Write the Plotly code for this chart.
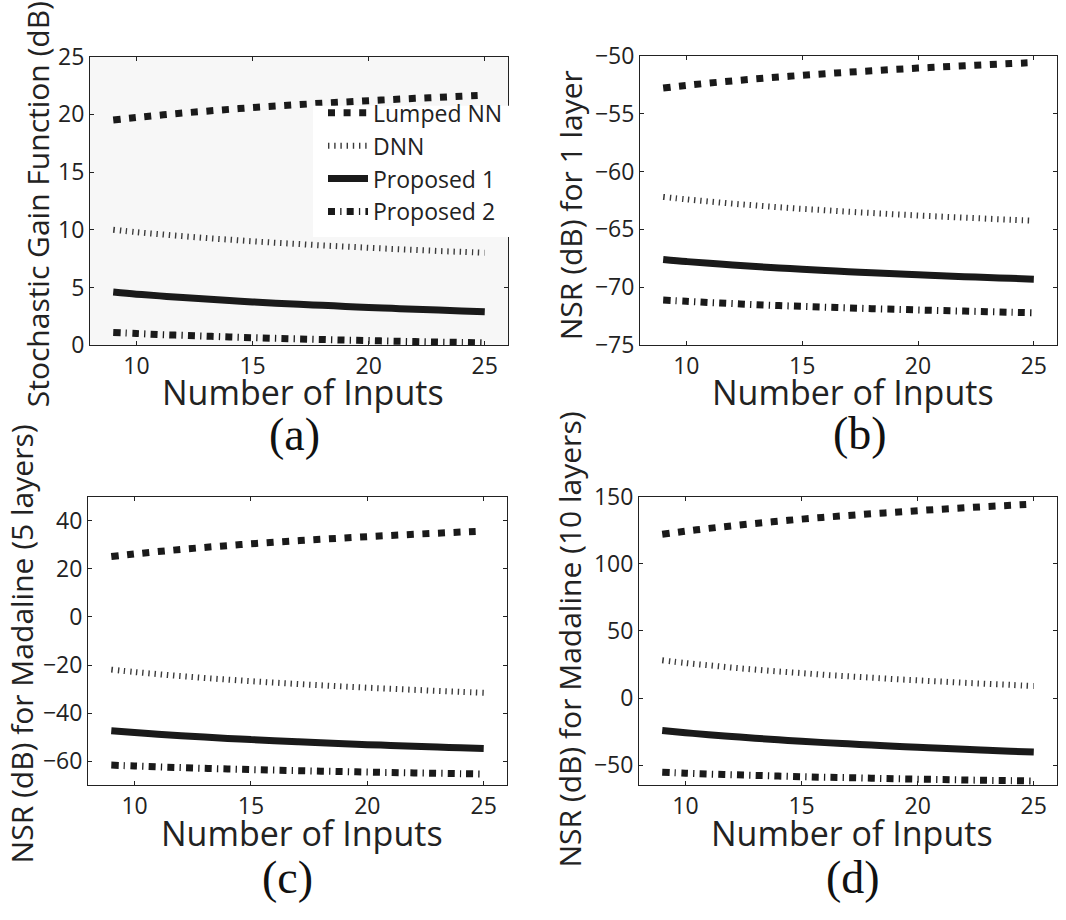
import plotly.graph_objects as go

W, H = 1066, 920

# ---------------- data ----------------
inputs = [9, 10, 11, 12, 13, 14, 15, 16, 17, 18, 19, 20, 21, 22, 23, 24, 25]
series_names = ["Lumped NN", "DNN", "Proposed 1", "Proposed 2"]

# (a) Stochastic gain function (dB)
a_lumped = [19.50, 19.72, 19.92, 20.11, 20.27, 20.43, 20.58, 20.71, 20.84, 20.96, 21.07, 21.18, 21.28, 21.38, 21.47, 21.56, 21.65]
a_dnn = [10.00, 9.79, 9.61, 9.44, 9.28, 9.14, 9.00, 8.87, 8.76, 8.64, 8.54, 8.44, 8.34, 8.25, 8.16, 8.08, 8.00]
a_prop1 = [4.60, 4.42, 4.27, 4.12, 3.99, 3.87, 3.75, 3.64, 3.54, 3.45, 3.36, 3.27, 3.19, 3.11, 3.04, 2.97, 2.90]
a_prop2 = [1.10, 1.01, 0.92, 0.85, 0.78, 0.71, 0.65, 0.59, 0.54, 0.49, 0.44, 0.40, 0.35, 0.31, 0.27, 0.24, 0.20]

# (b) NSR (dB) for 1 layer
b_lumped = [-52.80, -52.57, -52.37, -52.18, -52.01, -51.85, -51.70, -51.56, -51.43, -51.31, -51.19, -51.08, -50.98, -50.88, -50.78, -50.69, -50.60]
b_dnn = [-62.20, -62.41, -62.60, -62.78, -62.94, -63.09, -63.23, -63.35, -63.48, -63.59, -63.70, -63.80, -63.90, -63.99, -64.08, -64.17, -64.25]
b_prop1 = [-67.60, -67.78, -67.93, -68.08, -68.21, -68.33, -68.45, -68.56, -68.66, -68.75, -68.84, -68.93, -69.01, -69.09, -69.16, -69.23, -69.30]
b_prop2 = [-71.10, -71.21, -71.32, -71.41, -71.50, -71.58, -71.65, -71.72, -71.78, -71.85, -71.90, -71.96, -72.01, -72.06, -72.11, -72.16, -72.20]

# (c) NSR (dB) for Madaline (5 layers)
c_lumped = [25.10, 26.19, 27.18, 28.09, 28.92, 29.68, 30.40, 31.07, 31.69, 32.29, 32.85, 33.39, 33.89, 34.38, 34.83, 35.28, 35.70]
c_dnn = [-21.90, -22.89, -23.78, -24.61, -25.36, -26.05, -26.70, -27.30, -27.87, -28.41, -28.92, -29.41, -29.86, -30.30, -30.71, -31.12, -31.50]
c_prop1 = [-47.30, -48.06, -48.75, -49.39, -49.96, -50.50, -51.00, -51.47, -51.90, -52.32, -52.71, -53.09, -53.43, -53.78, -54.09, -54.40, -54.70]
c_prop2 = [-61.60, -61.98, -62.33, -62.64, -62.93, -63.20, -63.45, -63.68, -63.90, -64.11, -64.30, -64.49, -64.67, -64.84, -64.99, -65.15, -65.30]

# (d) NSR (dB) for Madaline (10 layers)
d_lumped = [122.0, 124.3, 126.4, 128.3, 130.1, 131.7, 133.3, 134.7, 136.0, 137.3, 138.4, 139.6, 140.7, 141.7, 142.7, 143.6, 144.5]
d_dnn = [28.1, 26.1, 24.4, 22.7, 21.2, 19.8, 18.6, 17.3, 16.2, 15.2, 14.1, 13.2, 12.3, 11.4, 10.6, 9.8, 9.0]
d_prop1 = [-24.1, -25.8, -27.3, -28.6, -29.9, -31.1, -32.2, -33.2, -34.1, -35.0, -35.9, -36.7, -37.4, -38.2, -38.9, -39.6, -40.2]
d_prop2 = [-55.3, -56.0, -56.6, -57.1, -57.6, -58.1, -58.6, -59.0, -59.3, -59.7, -60.1, -60.4, -60.7, -61.0, -61.3, -61.5, -61.8]

x_ticks = [10, 15, 20, 25]
x_title = "Number of Inputs"
y_titles = ["Stochastic Gain Function (dB)", "NSR (dB) for 1 layer",
            "NSR (dB) for Madaline (5 layers)", "NSR (dB) for Madaline (10 layers)"]
panel_labels = ["(a)", "(b)", "(c)", "(d)"]
y_ranges = [[0, 25], [-75, -50], [-70, 50], [-65, 150]]
y_dticks = [5, 5, 20, 50]

panels = [
    [a_lumped, a_dnn, a_prop1, a_prop2],
    [b_lumped, b_dnn, b_prop1, b_prop2],
    [c_lumped, c_dnn, c_prop1, c_prop2],
    [d_lumped, d_dnn, d_prop1, d_prop2],
]

# ---------------- styling / layout ----------------
FONT = "Open Sans"
DARK = "#1a1a1a"
styles = [
    dict(color=DARK, width=7, dash="7px,8.6px", shape="spline"),
    dict(color="#3a3a3a", width=6, dash="1.4px,4.8px", shape="spline"),
    dict(color=DARK, width=7, dash="solid", shape="spline"),
    dict(color=DARK, width=7, dash="7px,5.2px,1.3px,5.2px", shape="spline"),
]

# plot-area boxes in pixels: (left, right, top, bottom)
boxes = [(90, 508, 41, 340), (640, 1057, 40, 340), (88, 507, 497, 796), (639, 1057, 497, 796)]


def px(x):
    return x / W


def py(y):
    return 1 - y / H


fig = go.Figure()
layout = dict(width=W, height=H, margin=dict(l=0, r=0, t=0, b=0),
              paper_bgcolor="white", plot_bgcolor="rgba(0,0,0,0)",
              font=dict(family=FONT, color="#222222"),
              showlegend=True, hovermode=False)

annotations = []
shapes = []
for i, (vals, box) in enumerate(zip(panels, boxes)):
    sfx = "" if i == 0 else str(i + 1)
    xa, ya = "x" + sfx, "y" + sfx
    for name, v, st in zip(series_names, vals, styles):
        fig.add_trace(go.Scatter(x=inputs, y=v, mode="lines", name=name,
                                 line=st, xaxis=xa, yaxis=ya,
                                 showlegend=(i == 0)))
    l, r, t, b = box
    common = dict(showline=True, linecolor="#222222", linewidth=1, mirror="ticks",
                  ticks="inside", ticklen=4, tickcolor="#222222", tickwidth=1,
                  showgrid=False, zeroline=False,
                  tickfont=dict(size=23, family=FONT, color="#222222"))
    layout["xaxis" + sfx] = dict(common, domain=[px(l), px(r)], range=[8, 26],
                                 tickvals=x_ticks, anchor=ya)
    layout["yaxis" + sfx] = dict(common, domain=[py(b), py(t)], range=y_ranges[i],
                                 dtick=y_dticks[i], tick0=0, anchor=xa)
    cx = (l + r) / 2
    # x-axis title
    annotations.append(dict(text=x_title, x=px(cx + 4), y=py(b + 49), xref="paper", yref="paper",
                            showarrow=False, xanchor="center", yanchor="middle",
                            font=dict(size=34, family=FONT, color="#222222")))
    # y-axis title
    ytx = [37, 570, 21, 570][i]
    yty = [194, 195, 650, 645][i]
    annotations.append(dict(text=y_titles[i], x=px(ytx), y=py(yty), xref="paper", yref="paper",
                            showarrow=False, textangle=-90, xanchor="center", yanchor="middle",
                            font=dict(size=30, family=FONT, color="#222222")))
    # panel label
    lx = [294, 860, 287, 853][i]
    ly = [433, 432, 891, 891][i]
    annotations.append(dict(text=panel_labels[i], x=px(lx), y=py(ly), xref="paper", yref="paper",
                            showarrow=False, xanchor="center", yanchor="middle",
                            font=dict(size=46, family="Liberation Serif", color="#111111")))

# light grey background of panel (a)
shapes.append(dict(type="rect", xref="x domain", yref="y domain", x0=0, x1=1, y0=0, y1=1,
                   fillcolor="#f7f7f7", line=dict(width=0), layer="below"))
# white legend box of panel (a)
shapes.append(dict(type="rect", xref="paper", yref="paper", x0=px(313), x1=px(510),
                   y0=py(228), y1=py(92), fillcolor="white", line=dict(width=0), layer="above"))

layout["annotations"] = annotations
layout["shapes"] = shapes
layout["legend"] = dict(x=px(508), y=py(77), xanchor="right", yanchor="top",
                        bgcolor="rgba(0,0,0,0)", borderwidth=0,
                        font=dict(size=23, family=FONT, color="#222222"),
                        itemwidth=40, tracegroupgap=0)
fig.update_layout(**layout)
fig.write_html("out.html")
